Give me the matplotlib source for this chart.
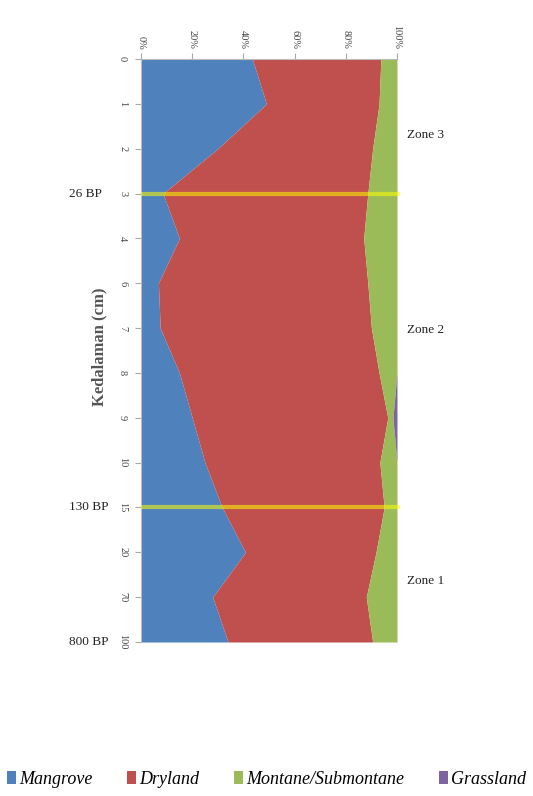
import matplotlib
matplotlib.use("Agg")
import matplotlib.pyplot as plt
from matplotlib.patches import Patch
import numpy as np

depths = ["0", "1", "2", "3", "4", "6", "7", "8", "9", "10", "15", "20", "70", "100"]
mangrove = [43.5, 49.0, 30.0, 8.6, 15.0, 6.8, 7.5, 15.0, 20.0, 25.0, 31.7, 40.8, 28.0, 34.0]
dryland = [50.2, 44.0, 60.5, 80.0, 72.0, 81.8, 82.5, 78.0, 76.4, 68.3, 63.3, 51.0, 60.0, 56.5]
montane = [6.3, 7.0, 9.5, 11.4, 13.0, 11.4, 10.0, 7.0, 2.0, 6.7, 5.0, 8.2, 12.0, 9.5]
grassland = [0.0, 0.0, 0.0, 0.0, 0.0, 0.0, 0.0, 0.0, 1.6, 0.0, 0.0, 0.0, 0.0, 0.0]
series_names = ["Mangrove", "Dryland", "Montane/Submontane", "Grassland"]
colors = ["#4f81bd", "#c0504d", "#9bbb59", "#8064a2"]
pct_ticks = ["0%", "20%", "40%", "60%", "80%", "100%"]
zone_labels = ["Zone 3", "Zone 2", "Zone 1"]
zone_pos = [1.7, 6.05, 11.65]
bp_labels = ["26 BP", "130 BP", "800 BP"]
bp_pos = [3, 10, 13]
zone_lines = [3, 10]

W, H = 533, 796
fig = plt.figure(figsize=(W / 100, H / 100), dpi=100)
ax = fig.add_axes([141 / W, 1 - 642 / H, (397 - 141) / W, (642 - 59) / H])

y = np.arange(len(depths))
data = np.array([mangrove, dryland, montane, grassland])
total = data.sum(axis=0)
frac = data / total
cum = np.vstack([np.zeros(len(depths)), np.cumsum(frac, axis=0)])
for i in range(4):
    ax.fill_betweenx(y, cum[i], cum[i + 1], color=colors[i], linewidth=0)

for zl in zone_lines:
    ax.plot([0, 1.01], [zl, zl], color="#ffff00", alpha=0.55, lw=3, clip_on=False, zorder=5,
            solid_capstyle="butt")

ax.set_xlim(0, 1)
ax.set_ylim(len(depths) - 1, 0)
ax.xaxis.tick_top()
ax.set_xticks(np.linspace(0, 1, 6))
ax.set_xticklabels(pct_ticks, rotation=-90, fontsize=7.5, color="#444444", family="Liberation Serif")
ax.set_yticks(y)
ax.set_yticklabels(depths, rotation=-90, fontsize=7.5, color="#444444", family="Liberation Serif", va="center")
ax.tick_params(axis="x", length=4, color="#aaaaaa", pad=3)
ax.tick_params(axis="y", length=4, color="#aaaaaa", pad=6)
for s in ["right", "bottom"]:
    ax.spines[s].set_visible(False)
for s in ["left", "top"]:
    ax.spines[s].set_color("#bbbbbb")

for lab, p in zip(zone_labels, zone_pos):
    ax.text(1.04, p, lab, transform=ax.get_yaxis_transform(), ha="left", va="center",
            fontsize=9.5, family="Liberation Serif", color="#222222")
for lab, p in zip(bp_labels, bp_pos):
    fig.text(69 / W, 1 - (59 + p * (642 - 59) / 13) / H, lab, ha="left", va="center",
             fontsize=9.5, family="Liberation Serif", color="#222222")

fig.text(99 / W, 1 - 347 / H, "Kedalaman (cm)", rotation=90, ha="center", va="center",
         fontsize=12, family="Liberation Serif", fontweight="bold", color="#555555")

handles = [Patch(facecolor=c, edgecolor="none") for c in colors]
fig.legend(handles, series_names, loc="center", bbox_to_anchor=(0.5, 1 - 779 / H), ncol=4,
           frameon=False, handlelength=0.5, handleheight=0.7, handletextpad=0.2,
           columnspacing=1.9, prop={"family": "Liberation Serif", "style": "italic", "size": 13})

fig.savefig("out.png", dpi=100)
